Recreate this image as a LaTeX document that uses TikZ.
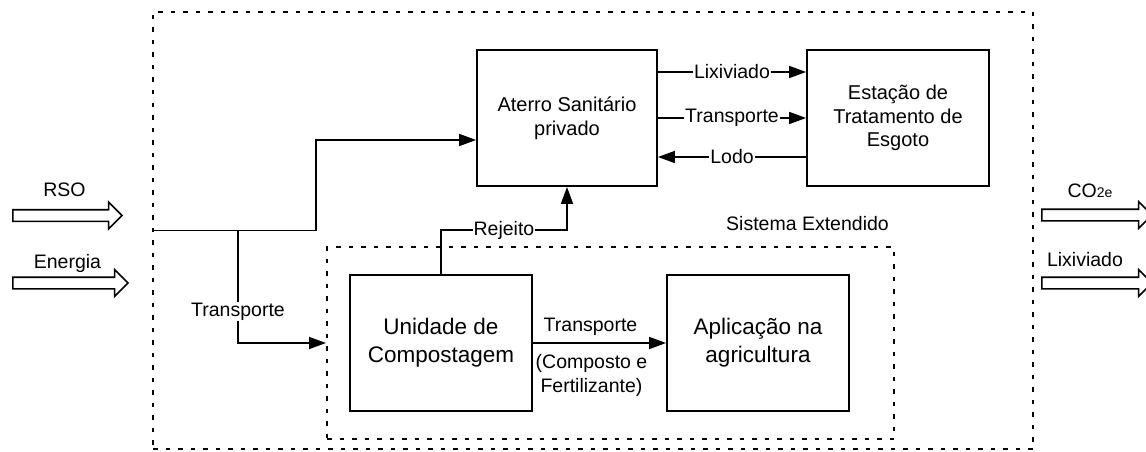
\documentclass[tikz,border=0pt]{standalone}
\usepackage{fontspec}
\setmainfont{Liberation Sans}
\usetikzlibrary{positioning,arrows.meta,shapes.arrows}
\tikzset{
    unit-box/.style = {draw, line width=1.8pt, rectangle, minimum width=182pt, minimum height=136pt, align=center, font=\fontsize{20}{23.5}\selectfont},
    big-box/.style = {unit-box, font=\fontsize{22.5}{28}\selectfont},
    frame-box/.style = {draw, line width=2pt, dash pattern=on 4.5pt off 8pt, rectangle},
    flow/.style = {line width=1.6pt, -{Triangle[length=17pt,width=12pt]}},
    flow-label/.style = {fill=white, inner sep=1pt, font=\fontsize{19.5}{24}\selectfont},
    side-arrow/.style = {draw, line width=1.6pt, single arrow, single arrow head extend=7.5pt, inner sep=5pt, minimum width=25pt},
    side-label/.style = {inner sep=0pt, font=\fontsize{19.5}{24}\selectfont},
}

\begin{document}
\begin{tikzpicture}[x=1pt,y=-1pt]
\useasboundingbox (0,0) rectangle (1146,452);
% boundaries
\node[frame-box, minimum width=880pt, minimum height=437pt] (sys) at (593,230.5) {};
\node[frame-box, minimum width=567pt, minimum height=192pt] (ext) at (610.5,343) {};
\node[side-label, above left=15pt and 6pt] (ext-title) at (ext.north east) {Sistema Extendido};

% units
\node[unit-box, minimum width=180pt] (aterro) at (567,118) {Aterro Sanitário\\privado};
\node[unit-box] (ete) at (898,118) {Estação de\\Tratamento de\\Esgoto};
\node[big-box] (comp) at (441,343) {Unidade de\\Compostagem};
\node[big-box] (agri) at (758,343) {Aplicação na\\agricultura};

% flows between units
\draw[flow] ([yshift=46pt]aterro.east) -- node[flow-label]{Lixiviado} ([yshift=46pt]ete.west);
\draw[flow] (aterro.east) -- node[flow-label]{Transporte} (ete.west);
\draw[flow] ([yshift=-39pt]ete.west) -- node[flow-label]{Lodo} ([yshift=-39pt]aterro.east);
\coordinate (split) at (238,230.5);
\draw[line width=1.6pt] (sys.west) -- (split);
\draw[flow] (split) -- ++(78,0) |- ([yshift=-22pt]aterro.west);
\draw[flow] (split) |- node[pos=0.36, flow-label]{Transporte} (ext.west);
\draw[flow] (comp.north) -- ++(0,-44) -| node[pos=0.25, flow-label]{Rejeito} (aterro.south);
\draw[flow] (comp.east) -- node[flow-label, above=6pt, xshift=-9pt]{Transporte}
    node[flow-label, below=10pt, xshift=-8pt, align=center]{(Composto e\\Fertilizante)} (agri.west);

% inputs and outputs
\node[side-arrow, minimum height=109pt] (rso) at (64.5,215.5) {};
\node[side-label] (rso-label) at (64.5,190) {RSO};
\node[side-arrow, minimum height=115pt] (energia) at (67.5,283) {};
\node[side-label] (energia-label) at (67.5,263) {Energia};
\node[side-arrow, minimum height=110pt] (co2) at (1094,215) {};
\node[side-label] (co2-label) at (1090,191) {CO{\fontsize{14}{14}\selectfont 2e}};
\node[side-arrow, minimum height=110pt] (lix) at (1094,283) {};
\node[side-label] (lix-label) at (1085,260) {Lixiviado};
\end{tikzpicture}
\end{document}
